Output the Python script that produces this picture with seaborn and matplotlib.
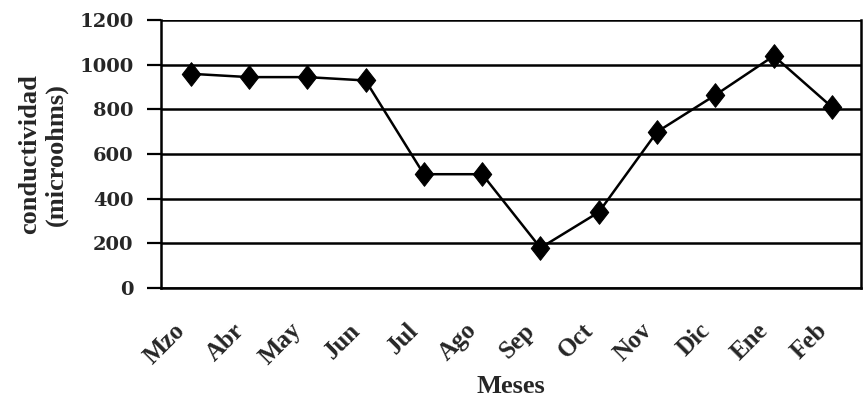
import numpy as np
import pandas as pd
import seaborn as sns
import matplotlib
matplotlib.use('Agg')
import matplotlib.pyplot as plt
from matplotlib.path import Path
from matplotlib.transforms import ScaledTranslation

meses = ['Mzo', 'Abr', 'May', 'Jun', 'Jul', 'Ago', 'Sep', 'Oct', 'Nov', 'Dic', 'Ene', 'Feb']
conductividad = [960, 945, 945, 930, 510, 510, 180, 340, 700, 865, 1040, 810]
y_ticks = [0, 200, 400, 600, 800, 1000, 1200]

df = pd.DataFrame({'mes': np.arange(len(meses)), 'cond': conductividad})

sns.set_style('white')
plt.rcParams['font.family'] = ['Liberation Serif', 'DejaVu Serif']
plt.rcParams['font.weight'] = 'bold'

# slightly tall diamond like the original marker
diamond = Path([(0, 1), (0.78, 0), (0, -1), (-0.78, 0), (0, 1)],
               [Path.MOVETO, Path.LINETO, Path.LINETO, Path.LINETO, Path.CLOSEPOLY])

fig = plt.figure(figsize=(8.63, 4.04), dpi=100)
ax = fig.add_axes([0.187, 0.287, 0.811, 0.663])

# gridlines
for v in y_ticks:
    ax.axhline(v, color='black', lw=1.8, zorder=1)

sns.lineplot(data=df, x='mes', y='cond', ax=ax, color='black', lw=1.8,
             marker=diamond, markersize=17, markeredgecolor='black', zorder=3)

ax.set_xlim(-0.5, len(meses) - 0.5)
ax.set_ylim(0, 1200)
ax.set_yticks(y_ticks)
ax.set_yticklabels([str(v) for v in y_ticks], fontsize=14, fontweight='bold',
                   family='DejaVu Serif')
ax.set_xticks(np.arange(len(meses)))
ax.set_xticklabels(meses, rotation=45, ha='right', rotation_mode='anchor',
                   fontsize=18, fontweight='bold')
ax.set_xticks(np.arange(-0.5, len(meses)), minor=True)
ax.tick_params(axis='x', which='major', length=0, pad=22)
ax.tick_params(axis='x', which='minor', length=8, width=1.6, direction='out', color='black')
ax.tick_params(axis='y', length=10, width=1.6, direction='out', color='black', left=True, pad=10)

shift = ScaledTranslation(-17 / 100, 0, fig.dpi_scale_trans)
for lbl in ax.get_xticklabels():
    lbl.set_transform(lbl.get_transform() + shift)

for s in ['left', 'bottom', 'right']:
    ax.spines[s].set_color('black')
    ax.spines[s].set_linewidth(1.8)
ax.spines['top'].set_visible(False)

ax.set_xlabel('Meses', fontsize=19, fontweight='bold', labelpad=4)
ax.set_ylabel('conductividad\n(microohms)', fontsize=19, fontweight='bold', labelpad=8,
              linespacing=1.2)

fig.savefig('out.png', dpi=100)
